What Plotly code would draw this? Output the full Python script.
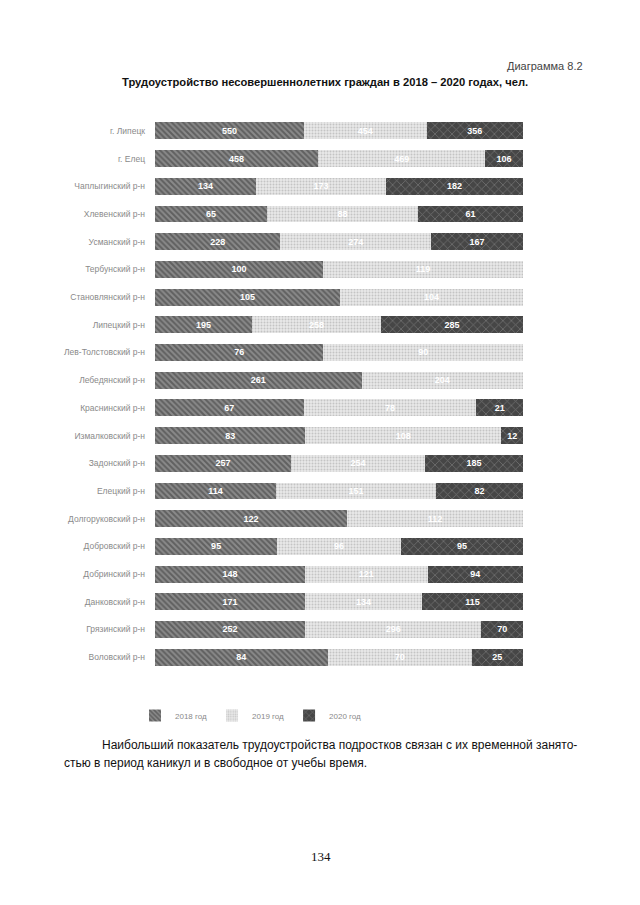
import plotly.graph_objects as go

categories = [
    "г. Липецк", "г. Елец", "Чаплыгинский р-н", "Хлевенский р-н", "Усманский р-н",
    "Тербунский р-н", "Становлянский р-н", "Липецкий р-н", "Лев-Толстовский р-н",
    "Лебедянский р-н", "Краснинский р-н", "Измалковский р-н", "Задонский р-н",
    "Елецкий р-н", "Долгоруковский р-н", "Добровский р-н", "Добринский р-н",
    "Данковский р-н", "Грязинский р-н", "Воловский р-н",
]
v2018 = [550, 458, 134, 65, 228, 100, 105, 195, 76, 261, 67, 83, 257, 114, 122, 95, 148, 171, 252, 84]
v2019 = [454, 469, 173, 88, 274, 119, 104, 258, 90, 204, 78, 108, 254, 151, 112, 96, 121, 134, 296, 70]
v2020 = [356, 106, 182, 61, 167, None, None, 285, None, None, 21, 12, 185, 82, None, 95, 94, 115, 70, 25]
series_names = ["2018 год", "2019 год", "2020 год"]

FONT = "Liberation Sans, Arial, sans-serif"

styles = [
    dict(shape="\\", bgcolor="#8a8a8a", fgcolor="#363636", size=4, solidity=0.5),
    dict(shape=".", bgcolor="#e8e8e8", fgcolor="#a0a0a0", size=3, solidity=0.35),
    dict(shape="x", bgcolor="#464646", fgcolor="#9a9a9a", size=6, solidity=0.25),
]

fig = go.Figure()
for name, vals, st in zip(series_names, [v2018, v2019, v2020], styles):
    fig.add_trace(go.Bar(
        y=categories, x=vals, orientation="h", name=name,
        text=[("" if v is None else str(v)) for v in vals],
        texttemplate="%{text}",
        textposition="inside", insidetextanchor="middle", textangle=0,
        textfont=dict(color="white", size=9, family=FONT, weight="bold"),
        constraintext="none",
        marker=dict(color=st["bgcolor"], line=dict(width=0),
                    pattern=dict(shape=st["shape"], bgcolor=st["bgcolor"],
                                 fgcolor=st["fgcolor"], size=st["size"],
                                 solidity=st["solidity"], fillmode="overlay")),
        hoverinfo="skip",
    ))

# page body has an 8px margin, so the figure is shifted by 8px
OFF = 8
W, H = 640 - OFF, 905 - OFF
L, T = 155 - OFF, 117 - OFF
pw, ph = 368, 554
R, B = W - L - pw, H - T - ph

def px(x):
    return (x - OFF - L) / pw

def py(y):
    return (H - B - (y - OFF)) / ph

ann = [
    dict(text="Диаграмма 8.2", x=px(585), y=py(66), xanchor="right", yanchor="middle",
         font=dict(size=11, color="#444444", family=FONT)),
    dict(text="<b>Трудоустройство несовершеннолетних граждан в 2018 – 2020 годах, чел.</b>",
         x=px(325), y=py(82), xanchor="center", yanchor="middle",
         font=dict(size=11.2, color="#111111", family=FONT)),
    dict(text="Наибольший показатель трудоустройства подростков связан с их временной занято-",
         x=px(100), y=py(745), xanchor="left", yanchor="middle",
         font=dict(size=12, color="#111111", family=FONT)),
    dict(text="стью в период каникул и в свободное от учебы время.",
         x=px(62), y=py(763), xanchor="left", yanchor="middle",
         font=dict(size=12, color="#111111", family=FONT)),
    dict(text="134", x=px(321), y=py(857), xanchor="center", yanchor="middle",
         font=dict(size=13, color="#111111", family="Liberation Serif, Times New Roman, serif")),
]
for a in ann:
    a.update(xref="paper", yref="paper", showarrow=False)

fig.update_layout(
    width=W, height=H,
    margin=dict(l=L, r=R, t=T, b=B, pad=0),
    paper_bgcolor="white", plot_bgcolor="white",
    barmode="stack", barnorm="percent", bargap=0.39,
    font=dict(family=FONT),
    showlegend=True,
    legend=dict(orientation="h", x=px(135), y=py(701), xanchor="left", yanchor="top",
                font=dict(size=8, color="#8a8a8a", family=FONT),
                itemwidth=30, traceorder="normal", bgcolor="rgba(0,0,0,0)"),
    xaxis=dict(visible=False, range=[0, 100], fixedrange=True),
    yaxis=dict(categoryorder="array", categoryarray=categories, autorange="reversed",
               showgrid=False, showline=False, zeroline=False, ticks="",
               tickfont=dict(size=8.5, color="#8a8a8a", family=FONT),
               ticklabelstandoff=9),
    annotations=ann,
)

fig.write_html("out.html")
